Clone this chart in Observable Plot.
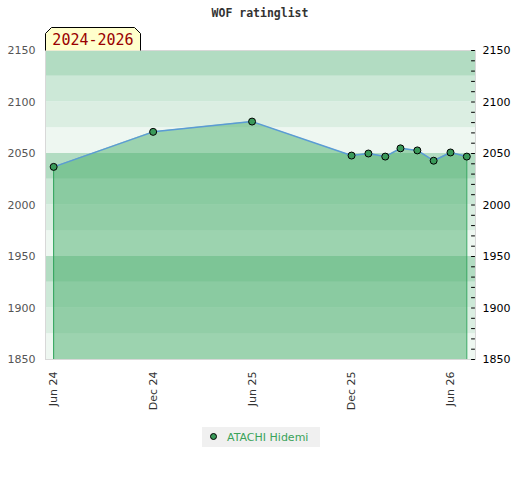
<!DOCTYPE html>
<html>
<head>
<meta charset="utf-8">
<script src="https://cdn.jsdelivr.net/npm/d3@7"></script>
<script src="https://cdn.jsdelivr.net/npm/@observablehq/plot@0.6"></script>
<style>
  html, body { margin: 0; padding: 0; background: #fff; }
  #wrap { position: relative; width: 520px; height: 480px; overflow: hidden; }
  #title { position: absolute; left: 0; width: 520px; top: 6px; text-align: center;
    font: bold 11.5px "DejaVu Sans Mono", monospace; color: #333; }
  #badge { position: absolute; left: 45px; top: 27px; }
  #legend { position: absolute; left: 202px; top: 427px; width: 118px; height: 20px; background: #f0f0f0; }
  #legend svg { position: absolute; left: 0; top: 0; }
</style>
</head>
<body>
<div id="wrap">
  <div id="chart"></div>
  <div id="title">WOF ratinglist</div>
  <svg id="badge" width="97" height="24">
    <path d="M0.5,23.5 L0.5,6.5 L6.5,0.5 L89.5,0.5 L95.5,6.5 L95.5,23.5" fill="#ffffcc" stroke="#000" stroke-width="1"/>
    <text x="48" y="18" text-anchor="middle" font-family="DejaVu Sans Mono, monospace" font-size="15" fill="#990000">2024-2026</text>
  </svg>
  <div id="legend">
    <svg width="118" height="20">
      <circle cx="11.5" cy="9.5" r="3" fill="#3a9a5a" stroke="#000" stroke-width="1"/>
      <text x="25" y="13.5" font-family="DejaVu Sans, sans-serif" font-size="11" fill="#3aa35a">ATACHI Hidemi</text>
    </svg>
  </div>
</div>
<script>
// Data
const dates = ["2024-06-01","2024-12-01","2025-06-01","2025-12-01","2026-01-01","2026-02-01","2026-03-01","2026-04-01","2026-05-01","2026-06-01","2026-07-01"];
const ratings = [2037, 2071, 2081, 2048, 2050, 2047, 2055, 2053, 2043, 2051, 2047];
const player = "ATACHI Hidemi";

const xTicks = ["2024-06-01","2024-12-01","2025-06-01","2025-12-01","2026-06-01"];
const yTicks = [1850, 1900, 1950, 2000, 2050, 2100, 2150];
const yMinorTicks = d3.range(1850, 2151, 10);

const bandLows  = [1850, 1875, 1900, 1925, 1950, 1975, 2000, 2025, 2050, 2075, 2100, 2125];
const bandHighs = [1875, 1900, 1925, 1950, 1975, 2000, 2025, 2050, 2075, 2100, 2125, 2150];
const bandColors = ["#eef7f1", "#dbeee2", "#cce8d7", "#b2dcc2",
                    "#eef7f1", "#dbeee2", "#cce8d7", "#b2dcc2",
                    "#eef7f1", "#dbeee2", "#cce8d7", "#b2dcc2"];

const data = dates.map((d, i) => ({date: new Date(d), rating: ratings[i], name: player}));
const bands = bandLows.map((lo, i) => ({lo, hi: bandHighs[i], color: bandColors[i]}));
const ends = [data[0], data[data.length - 1]];
const yMin = 1850, yMax = 2150;

const tickShape = {draw(context, l) { context.moveTo(0, 0); context.lineTo(0, -l); }};

const chart = Plot.plot({
  width: 520,
  height: 480,
  marginTop: 50,
  marginBottom: 121,
  marginLeft: 45,
  marginRight: 45,
  style: {fontFamily: "DejaVu Sans, sans-serif", fontSize: "11px", background: "transparent"},
  x: {type: "utc", domain: [new Date("2024-05-17"), new Date("2026-07-17")]},
  y: {domain: [yMin, yMax]},
  marks: [
    Plot.rect(bands, {y1: "lo", y2: "hi", fill: "color"}),
    Plot.areaY(data, {x: "date", y1: yMin, y2: "rating", fill: "#42ac67", fillOpacity: 0.48}),
    Plot.ruleX(ends, {x: "date", y1: yMin, y2: "rating", stroke: "#2ea35a", strokeWidth: 1}),
    Plot.line(data, {x: "date", y: "rating", stroke: "#5b9bd5", strokeWidth: 1.5}),
    Plot.dot(data, {x: "date", y: "rating", r: 3.5, fill: "#3a9a5a", stroke: "#000", strokeWidth: 1}),
    Plot.frame({stroke: "#d8d8d8"}),
    Plot.vector(yMinorTicks, {y: d => d, frameAnchor: "right", dx: -1, length: 3, rotate: -90,
      anchor: "start", shape: tickShape, stroke: "#000", strokeWidth: 1}),
    Plot.axisX({ticks: xTicks.map(d => new Date(d)), tickFormat: d3.utcFormat("%b %y"),
      tickRotate: -90, tickSize: 0, tickPadding: 12, label: null, fill: "#333"}),
    Plot.axisY({anchor: "left", ticks: yTicks, tickSize: 0, tickPadding: 10, label: null, fill: "#555", tickFormat: d => String(d)}),
    Plot.axisY({anchor: "right", ticks: yTicks, tickSize: 0, tickPadding: 7, label: null, fill: "#000", tickFormat: d => String(d)})
  ]
});
document.getElementById("chart").appendChild(chart);
</script>
</body>
</html>
